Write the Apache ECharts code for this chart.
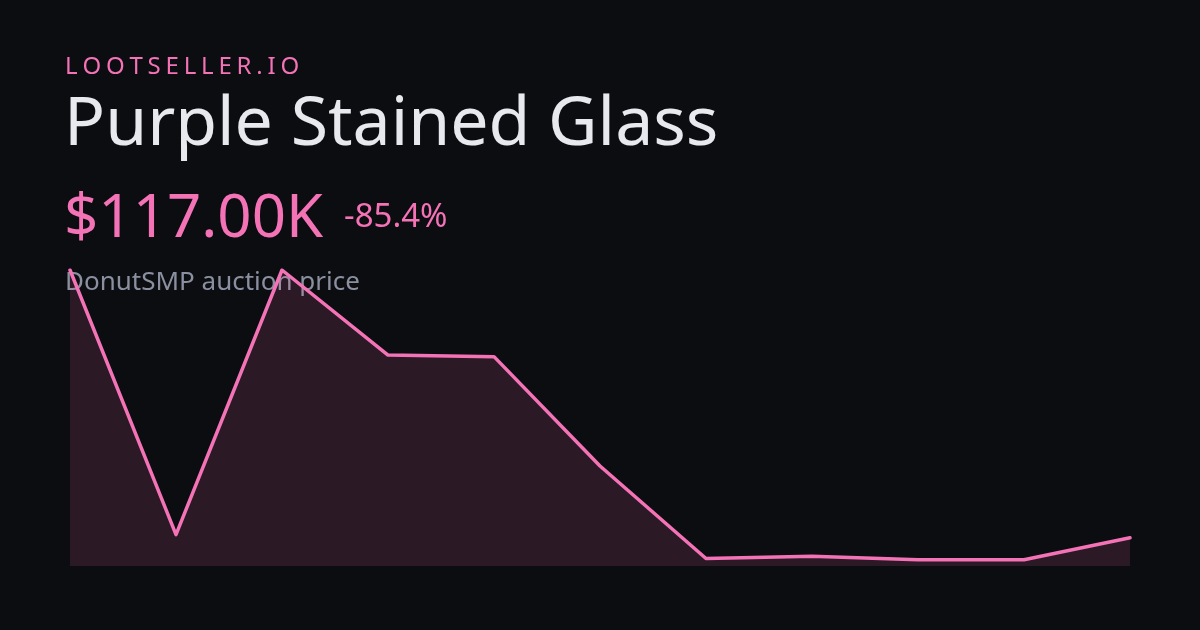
<!DOCTYPE html>
<html><head><meta charset="utf-8">
<script src="https://cdn.jsdelivr.net/npm/echarts@6/dist/echarts.min.js"></script>
<style>html,body{margin:0;padding:0;background:#0c0d10;}#c{width:1200px;height:630px;}</style>
</head><body><div id="c"></div>
<script>
const brand = "LOOTSELLER.IO";
const itemName = "Purple Stained Glass";
const priceLabel = "$117.00K";
const changeLabel = "-85.4%";
const subtitle = "DonutSMP auction price";
const categories = ["1","2","3","4","5","6","7","8","9","10","11"];
const prices = [800, 125, 800, 583, 579, 300, 64, 70, 61, 61, 117];
const yMin = 45, yMax = 800;

const PINK = "#f472b6";
const FONT = "'Noto Sans', 'Open Sans', sans-serif";

// letter-spaced brand text
const ctx = document.createElement('canvas').getContext('2d');
const brandSize = 24, spacing = 4.8;
ctx.font = brandSize + "px " + FONT;
const brandEls = [];
let bx = 65;
for (const ch of brand) {
  brandEls.push({type:'text', z:0, style:{text:ch, x:bx, y:67.5, fill:PINK, font: brandSize+"px "+FONT, textVerticalAlign:'middle'}});
  bx += ctx.measureText(ch).width + spacing;
}

const chart = echarts.init(document.getElementById('c'), null, {renderer:'canvas'});
chart.setOption({
  backgroundColor: '#0c0d10',
  animation: false,
  grid: {left: 70, right: 70, top: 270, bottom: 64},
  xAxis: {type:'category', data: categories, boundaryGap:false, show:false},
  yAxis: {type:'value', min:yMin, max:yMax, show:false},
  graphic: brandEls.concat([
    {type:'text', z:0, style:{text:itemName, x:64, y:125.6, fill:'#e8e9ee', font:"68px "+FONT, textVerticalAlign:'middle'}},
    {type:'text', z:0, style:{text:priceLabel, x:64, y:219.6, fill:PINK, font:"60px "+FONT, textVerticalAlign:'middle'}},
    {type:'text', z:0, style:{text:changeLabel, x:344, y:217.3, fill:PINK, font:"33px "+FONT, textVerticalAlign:'middle'}},
    {type:'text', z:0, style:{text:subtitle, x:65, y:282.6, fill:'#8b90a0', font:"26px "+FONT, textVerticalAlign:'middle'}}
  ]),
  series: [{
    type:'line', data: prices, symbol:'none', z:5,
    lineStyle:{color:PINK, width:3.5, join:'round', cap:'round'},
    areaStyle:{color:'rgba(244,114,182,0.19)', origin:'start'}
  }]
});
</script></body></html>
